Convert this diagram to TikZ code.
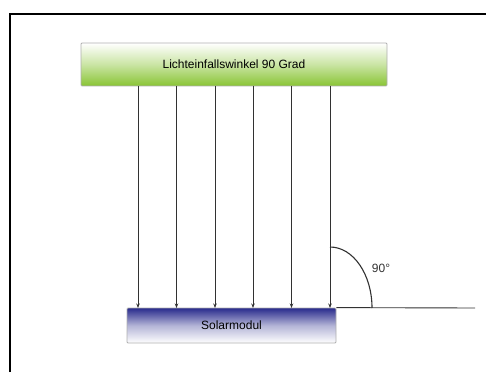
\documentclass[tikz,border=0pt]{standalone}
\usepackage{fontspec}
\setmainfont{Liberation Sans}
\usetikzlibrary{arrows.meta}
\definecolor{lime}{RGB}{137,196,52}
\definecolor{navy}{RGB}{40,42,140}
\definecolor{ray}{RGB}{50,50,50}
\tikzset{
  lightbox/.style={draw={rgb,255:red,175;green,175;blue,175}, line width=0.8pt, rounded corners=1pt,
    font=\fontsize{12}{14}\selectfont, inner sep=0pt, anchor=center},
  greenbox/.style={lightbox, minimum width=306pt, minimum height=43pt,
    top color=white, bottom color=lime, middle color=lime!45!white},
  bluebox/.style={lightbox, minimum width=209pt, minimum height=35pt,
    top color=navy, bottom color=white, middle color=navy!35!white},
  rayline/.style={draw=ray, line width=0.8pt, -{Stealth[length=4.5pt,width=3.5pt]}},
  thinline/.style={draw=ray, line width=0.9pt},
  frame/.style={draw=black, line width=2pt}
}
\begin{document}
\begin{tikzpicture}[x=1pt,y=1pt]
\useasboundingbox (0,0) rectangle (486,372);
% frame
\coordinate (fbl) at (10,0);
\coordinate (ftl) at (10,358);
\coordinate (ftr) at (486,358);
\draw[frame] (fbl) -- (ftl) -- (ftr);
% boxes
\node[greenbox] (light) at (234,307.5) {Lichteinfallswinkel 90 Grad};
\node[bluebox] (modul) at (231.5,46.5) {Solarmodul};
% rays
\foreach \i/\x in {1/138,2/176.5,3/215,4/253,5/291.5,6/330}{
  \coordinate (t\i) at (\x,286);
  \coordinate (b\i) at (\x,64);
  \draw[rayline] (t\i) -- (b\i);
}
% ground line
\coordinate (gend) at (475,64);
\draw[thinline] (modul.north east) -- (gend);
% angle arc
\coordinate (arcstart) at (372,64);
\draw[thinline, line width=1.1pt] (arcstart) arc[start angle=0, end angle=90, x radius=42, y radius=61];
\node[font=\fontsize{12}{14}\selectfont, text=ray] (ang) at (381,104) {90°};
\end{tikzpicture}
\end{document}
